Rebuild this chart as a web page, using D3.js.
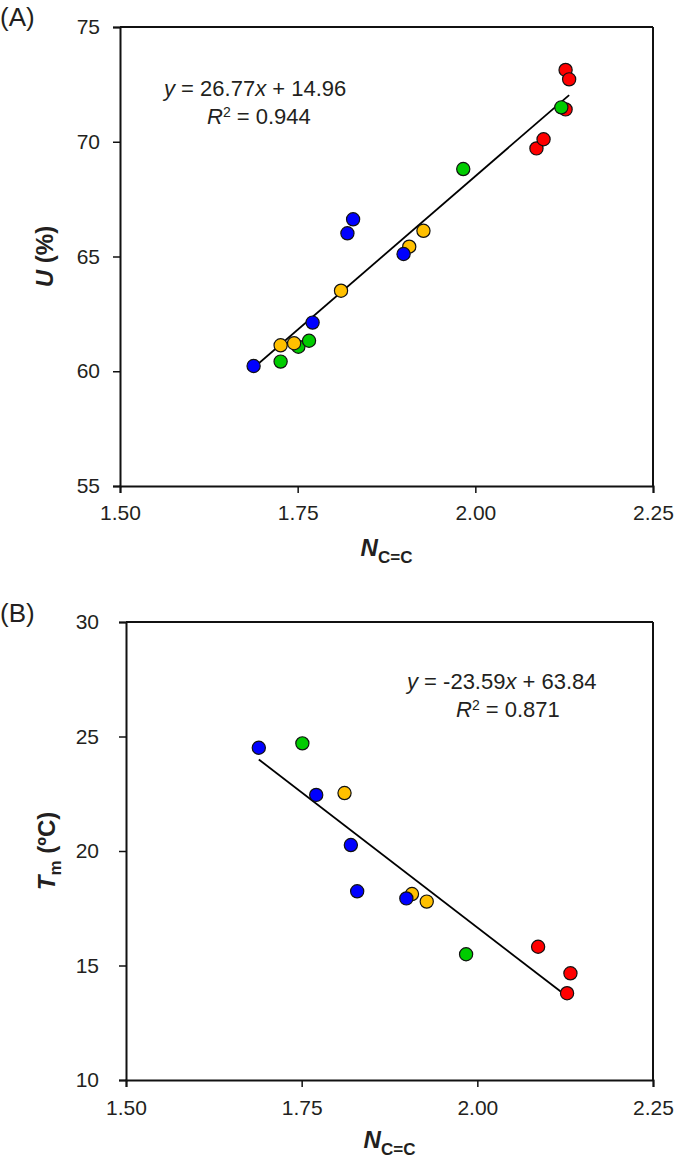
<!DOCTYPE html>
<html>
<head>
<meta charset="utf-8">
<script src="https://cdn.jsdelivr.net/npm/d3@7"></script>
<style>
  html, body { margin: 0; padding: 0; background: #fff; }
  svg { display: block; font-family: "Liberation Sans", Arial, sans-serif; }
</style>
</head>
<body>
<svg id="chart" width="675" height="1163"></svg>
<script>
// ---- Data ----
const seriesNames = ["red", "green", "yellow", "blue"]; // draw order
const seriesColors = ["#FF0000", "#00CC00", "#FFC000", "#0000FF"];

// Panel A: U (%) vs N(C=C)
const aRedX = [2.086, 2.096, 2.127, 2.127, 2.132];
const aRedY = [69.71, 70.11, 71.41, 73.13, 72.72];
const aGreenX = [1.726, 1.751, 1.766, 1.983, 2.121];
const aGreenY = [60.42, 61.07, 61.33, 68.81, 71.50];
const aYellowX = [1.726, 1.745, 1.811, 1.907, 1.927];
const aYellowY = [61.13, 61.22, 63.51, 65.43, 66.12];
const aBlueX = [1.688, 1.771, 1.820, 1.828, 1.899];
const aBlueY = [60.23, 62.12, 66.01, 66.62, 65.11];
const aFit = { slope: 26.77, intercept: 14.96, r2: "0.944" };
const aXTicks = [1.50, 1.75, 2.00, 2.25];
const aYTicks = [55, 60, 65, 70, 75];

// Panel B: Tm (ºC) vs N(C=C)
const bRedX = [2.0865, 2.1325, 2.1277];
const bRedY = [15.82, 14.66, 13.79];
const bGreenX = [1.751, 1.984];
const bGreenY = [24.70, 15.49];
const bYellowX = [1.811, 1.907, 1.928];
const bYellowY = [22.53, 18.12, 17.79];
const bBlueX = [1.689, 1.7707, 1.820, 1.829, 1.899];
const bBlueY = [24.51, 22.45, 20.26, 18.24, 17.93];
const bFit = { slope: -23.59, intercept: 63.84, r2: "0.871" };
const bXTicks = [1.50, 1.75, 2.00, 2.25];
const bYTicks = [10, 15, 20, 25, 30];

// ---- Drawing ----
const svg = d3.select("#chart");
const textColor = "#231f20";

function panel(cfg) {
  const g = svg.append("g");
  const x = d3.scaleLinear().domain([1.5, 2.25]).range([cfg.left, cfg.right]);
  const y = d3.scaleLinear().domain(cfg.yDomain).range([cfg.bottom, cfg.top]);

  // frame (top & right)
  g.append("line").attr("x1", cfg.left).attr("x2", cfg.right).attr("y1", cfg.top).attr("y2", cfg.top)
    .attr("stroke", "#111").attr("stroke-width", 2);
  g.append("line").attr("x1", cfg.right).attr("x2", cfg.right).attr("y1", cfg.top).attr("y2", cfg.bottom)
    .attr("stroke", "#111").attr("stroke-width", 2);

  // axes
  const ya = g.append("g").attr("transform", `translate(${cfg.left},0)`)
    .call(d3.axisLeft(y).tickValues(cfg.yTicks).tickFormat(d3.format("d")).tickSizeOuter(0).tickSize(7).tickPadding(cfg.yPad));
  const xa = g.append("g").attr("transform", `translate(0,${cfg.bottom})`)
    .call(d3.axisBottom(x).tickValues(cfg.xTicks).tickFormat(d3.format(".2f")).tickSizeOuter(0).tickSize(7).tickPadding(cfg.xPad));
  [ya, xa].forEach(a => {
    a.select(".domain").attr("stroke", "#111").attr("stroke-width", 2);
    a.selectAll(".tick line").attr("stroke", "#111").attr("stroke-width", 1.5);
    a.selectAll(".tick text").attr("fill", textColor).style("font-size", "21px")
      .style("font-family", '"Liberation Sans", Arial, sans-serif');
  });

  // regression line across data x-range
  const allX = cfg.series.flatMap(s => s.x);
  const xmin = d3.min(allX), xmax = d3.max(allX);
  const f = v => cfg.fit.slope * v + cfg.fit.intercept;
  g.append("line")
    .attr("x1", x(xmin)).attr("y1", y(f(xmin)))
    .attr("x2", x(xmax)).attr("y2", y(f(xmax)))
    .attr("stroke", "#000").attr("stroke-width", 1.8);

  // points
  cfg.series.forEach((s, i) => {
    const pts = s.x.map((v, j) => ({ x: v, y: s.y[j] }));
    g.append("g").selectAll("circle").data(pts).join("circle")
      .attr("cx", d => x(d.x)).attr("cy", d => y(d.y)).attr("r", 6.6)
      .attr("fill", seriesColors[i]).attr("stroke", "#111").attr("stroke-width", 1.2);
  });

  // equation text
  const fs = 22;
  const sign = cfg.fit.intercept >= 0 ? "+" : "-";
  const t1 = g.append("text").attr("x", cfg.eqX).attr("y", cfg.eqY).attr("fill", textColor).style("font-size", fs + "px");
  t1.append("tspan").style("font-style", "italic").text("y");
  t1.append("tspan").text(` = ${cfg.fit.slope.toFixed(2)}`);
  t1.append("tspan").style("font-style", "italic").text("x");
  t1.append("tspan").text(` ${sign} ${Math.abs(cfg.fit.intercept).toFixed(2)}`);
  const t2 = g.append("text").attr("x", cfg.r2X).attr("y", cfg.eqY + 28).attr("fill", textColor).style("font-size", fs + "px");
  t2.append("tspan").style("font-style", "italic").text("R");
  t2.append("tspan").attr("dy", -7).style("font-size", "14px").text("2");
  t2.append("tspan").attr("dy", 7).text(` = ${cfg.fit.r2}`);

  // panel label
  g.append("text").attr("x", 0).attr("y", cfg.labelY).attr("fill", textColor).style("font-size", "26px").text(cfg.label);

  // x title
  const cx = (cfg.left + cfg.right) / 2;
  const xt = g.append("text").attr("x", cx).attr("y", cfg.xTitleY).attr("text-anchor", "middle")
    .attr("fill", textColor).style("font-weight", "bold");
  xt.append("tspan").style("font-style", "italic").style("font-size", "24px").text("N");
  xt.append("tspan").attr("dy", 7).style("font-size", "17px").text("C=C");

  // y title
  const cy = (cfg.top + cfg.bottom) / 2;
  const yt = g.append("text").attr("transform", `translate(${cfg.yTitleX},${cy}) rotate(-90)`)
    .attr("text-anchor", "middle").attr("fill", textColor).style("font-weight", "bold").style("font-size", "24px");
  cfg.yTitle(yt);

  return g;
}

panel({
  left: 120, right: 653, top: 27, bottom: 486,
  yDomain: [55, 75], yTicks: aYTicks, xTicks: aXTicks, yPad: 13, xPad: 12,
  series: [
    { x: aRedX, y: aRedY }, { x: aGreenX, y: aGreenY },
    { x: aYellowX, y: aYellowY }, { x: aBlueX, y: aBlueY }
  ],
  fit: aFit, eqX: 164, r2X: 207, eqY: 96,
  label: "(A)", labelY: 26, xTitleY: 556, yTitleX: 53,
  yTitle: t => {
    t.append("tspan").style("font-style", "italic").text("U");
    t.append("tspan").text(" (%)");
  }
});

panel({
  left: 126, right: 653, top: 622, bottom: 1080,
  yDomain: [10, 30], yTicks: bYTicks, xTicks: bXTicks, yPad: 20, xPad: 13,
  series: [
    { x: bRedX, y: bRedY }, { x: bGreenX, y: bGreenY },
    { x: bYellowX, y: bYellowY }, { x: bBlueX, y: bBlueY }
  ],
  fit: bFit, eqX: 407, r2X: 456, eqY: 689,
  label: "(B)", labelY: 622, xTitleY: 1148, yTitleX: 55,
  yTitle: t => {
    t.append("tspan").style("font-style", "italic").text("T");
    t.append("tspan").attr("dy", 6).style("font-size", "17px").text("m");
    t.append("tspan").attr("dy", -6).text(" (ºC)");
  }
});
</script>
</body>
</html>
